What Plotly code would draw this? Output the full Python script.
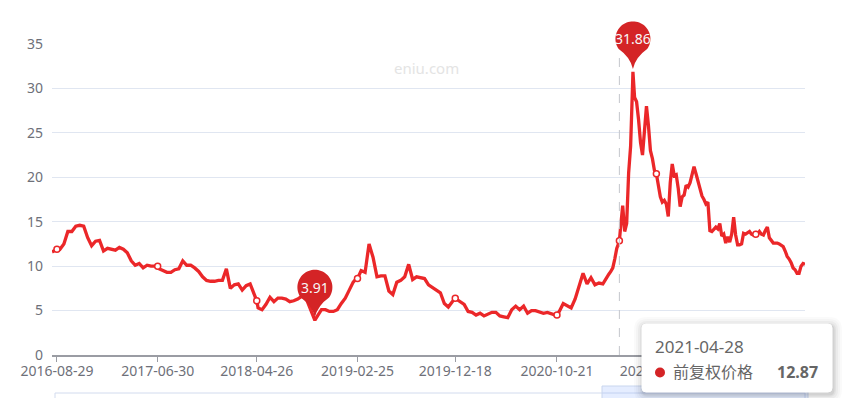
import math
import pandas as pd
import plotly.graph_objects as go

# ---------------- data ----------------
seg1_start = "2016-08-14"
seg1_step_days = 12
seg1_values = [
    11.6, 11.9, 11.9, 12.5, 13.9, 13.9, 14.5, 14.6, 14.5, 13.2,
    12.3, 12.8, 12.9, 11.7, 12.0, 11.9, 11.8, 12.1, 11.9, 11.5,
    10.6, 10.1, 10.3, 9.8, 10.1, 10.0, 10.0, 9.7, 9.5, 9.3,
    9.3, 9.6, 9.7, 10.6, 10.1, 10.1, 9.8, 9.4, 8.8, 8.4,
    8.3, 8.3, 8.4, 8.4, 9.7, 7.5, 7.9, 8.0, 7.3, 7.8,
    8.0, 6.8, 5.3, 5.1, 5.7, 6.5, 6.0, 6.4, 6.4, 6.3,
    6.0, 6.1, 6.3, 6.6, 6.5, 5.4, 4.5, 4.4, 5.1, 5.1,
    4.9, 4.9, 5.1, 5.8, 6.4, 7.3, 8.2, 8.7, 9.5, 9.3,
    12.5, 11.0, 8.8, 8.9, 8.9, 7.2, 6.8, 8.2, 8.4, 8.8,
    10.2, 8.5, 8.8, 8.7, 8.6, 7.9, 7.6, 7.2, 7.0, 5.8,
    5.4, 6.0, 6.3, 6.0, 5.7, 4.9, 4.8, 4.5, 4.7, 4.4,
    4.6, 4.8, 4.8, 4.4, 4.3, 4.2, 5.1, 5.5, 5.1, 5.5,
    4.7, 5.0, 5.0, 4.8, 4.7, 4.8, 4.6, 4.5, 4.9, 5.8,
    5.6, 5.3, 6.3, 7.8, 9.2, 8.0, 8.7, 7.9, 8.1, 8.0,
    8.8,
]
seg2_start = "2021-03-27"
seg2_step_days = 6
seg2_values = [
    9.1, 9.4, 9.8, 10.8, 12.0, 12.6, 14.5, 16.8, 13.9, 14.8,
    20.5, 23.5, 30.5, 29.0, 28.5, 26.5, 23.9, 22.5, 25.2, 28.0,
    25.8, 23.0, 22.1, 20.8, 20.4, 19.1, 17.8, 17.2, 17.4, 17.0,
    15.6, 19.4, 21.5, 20.2, 20.3, 18.8, 16.7, 17.8, 18.0, 19.1,
    18.9, 19.4, 20.5, 21.2, 20.4, 19.6, 18.5, 17.9, 17.5, 17.0,
    17.2, 14.0, 13.9, 14.1, 14.4, 14.2, 14.8, 13.4, 13.6, 12.6,
    13.3, 12.7, 13.6, 15.5, 13.5, 12.4, 12.4, 12.5, 13.7, 13.6,
    13.8, 13.9, 13.6, 13.5, 13.7, 13.6, 13.9, 13.6, 13.5, 14.0,
    14.4, 13.2, 12.9, 12.6, 12.6, 12.6, 12.5, 12.4, 12.2, 11.7,
    11.1, 10.8, 10.4, 9.8, 9.6, 9.2, 9.2, 10.0, 10.3, 10.2,
]
key_dates = ["2016-08-29", "2017-06-30", "2018-04-26", "2018-10-19", "2019-02-25",
             "2019-12-18", "2020-10-21", "2021-04-28", "2021-06-08", "2021-08-18",
             "2022-06-15"]
key_values = [11.9, 10.0, 6.1, 3.91, 8.6, 6.4, 4.5, 12.87, 31.86, 20.4, 13.6]

tick_dates = ["2016-08-29", "2017-06-30", "2018-04-26", "2019-02-25", "2019-12-18",
              "2020-10-21", "2021-08-18", "2022-06-15"]
# the last label sits entirely under the tooltip in the reference
tick_labels = ["2016-08-29", "2017-06-30", "2018-04-26", "2019-02-25", "2019-12-18",
               "2020-10-21", "2021-08-18", ""]
y_ticks = [0, 5, 10, 15, 20, 25, 30, 35]
y_range = [0, 35]

series_name = "前复权价格"
max_date, max_value = "2021-06-08", 31.86
min_date, min_value = "2018-10-19", 3.91
tip_date, tip_value = "2021-04-28", 12.87
watermark = "eniu.com"
x_range = ["2016-08-14", "2022-11-11"]

# ---------------- build series ----------------
d1 = pd.date_range(seg1_start, periods=len(seg1_values), freq=f"{seg1_step_days}D")
d2 = pd.date_range(seg2_start, periods=len(seg2_values), freq=f"{seg2_step_days}D")
s = pd.concat([
    pd.Series(seg1_values, index=d1),
    pd.Series(seg2_values, index=d2),
    pd.Series(key_values, index=pd.to_datetime(key_dates)),
])
s = s[~s.index.duplicated(keep="last")].sort_index()
key_map = dict(zip(key_dates, key_values))
marker_dates = tick_dates + [tip_date]
marker_values = [key_map[d] for d in marker_dates]

# ---------------- style / geometry ----------------
W, H = 862, 398
L, R, T, B = 52, 57, 44, 43
PW, PH = W - L - R, H - T - B
LINE = "#eb2729"
PIN = "#d42426"
FONT = "Noto Sans, Noto Sans CJK SC, sans-serif"
LABEL = "#6e7079"

t0, t1 = pd.Timestamp(x_range[0]), pd.Timestamp(x_range[1])


def date_frac(d):
    return (pd.Timestamp(d) - t0) / (t1 - t0)


def val_frac(v):
    return (v - y_range[0]) / (y_range[1] - y_range[0])


def px(x):
    return (x - L) / PW


def py(y):
    return (H - B - y) / PH


def rrect(x0, y0, x1, y1, r):
    pts = [
        f"M{px(x0 + r)},{py(y0)}", f"L{px(x1 - r)},{py(y0)}",
        f"Q{px(x1)},{py(y0)} {px(x1)},{py(y0 + r)}",
        f"L{px(x1)},{py(y1 - r)}",
        f"Q{px(x1)},{py(y1)} {px(x1 - r)},{py(y1)}",
        f"L{px(x0 + r)},{py(y1)}",
        f"Q{px(x0)},{py(y1)} {px(x0)},{py(y1 - r)}",
        f"L{px(x0)},{py(y0 + r)}",
        f"Q{px(x0)},{py(y0)} {px(x0 + r)},{py(y0)}", "Z",
    ]
    return " ".join(pts)


PIN_R, PIN_CY, PIN_TIP = 17.5, 33.0, 3.0


def pin_path(r=PIN_R, cy=PIN_CY, tip=PIN_TIP, n=48):
    th = math.acos(r / (cy - tip))
    a0 = 1.5 * math.pi - th
    a1 = th - 0.5 * math.pi
    lx, ly = -r * math.sin(th), cy - r * math.cos(th)
    parts = [f"M0,{tip}", f"Q{lx * 0.2:.2f},{tip + (ly - tip) * 0.6:.2f} {lx:.2f},{ly:.2f}"]
    for i in range(1, n + 1):
        a = a0 + (a1 - a0) * i / n
        parts.append(f"L{r * math.cos(a):.2f},{cy + r * math.sin(a):.2f}")
    parts.append(f"Q{-lx * 0.2:.2f},{tip + (ly - tip) * 0.6:.2f} 0,{tip} Z")
    return " ".join(parts)


fig = go.Figure()
fig.add_trace(go.Scatter(
    x=s.index, y=s.values, mode="lines", name=series_name,
    line=dict(color=LINE, width=3.3), hoverinfo="skip",
))
fig.add_trace(go.Scatter(
    x=marker_dates, y=marker_values, mode="markers", showlegend=False,
    marker=dict(symbol="circle", size=6, color="white", line=dict(color=LINE, width=1.5)),
    hoverinfo="skip",
))

shapes = []
# dashed pointer line
shapes.append(dict(type="line", xref="x", yref="paper", x0=tip_date, x1=tip_date,
                   y0=0, y1=py(45), line=dict(color="#c4c6cc", width=1, dash="dash"), layer="above"))
# pins (paper refs so the balloon is not clipped at the top of the plot)
for d, v in [(max_date, max_value), (min_date, min_value)]:
    shapes.append(dict(type="path", xref="paper", yref="paper", xsizemode="pixel", ysizemode="pixel",
                       xanchor=date_frac(d), yanchor=val_frac(v), path=pin_path(), fillcolor=PIN,
                       line=dict(width=0), layer="above"))
# data zoom strip (partially visible)
shapes.append(dict(type="rect", xref="paper", yref="paper", x0=px(55), x1=px(805),
                   y0=py(393), y1=py(402), fillcolor="white",
                   line=dict(color="#d2dbee", width=1), layer="above"))
shapes.append(dict(type="rect", xref="paper", yref="paper", x0=px(602), x1=px(808),
                   y0=py(386), y1=py(402), fillcolor="rgba(135,175,255,0.22)",
                   line=dict(color="#c9d6ee", width=1), layer="above"))
# tooltip shadow + box
tx0, ty0, tx1, ty1 = 642, 324, 832, 392
for sp, a in [(9, 0.018), (7, 0.025), (5, 0.035), (3, 0.045), (1.5, 0.06)]:
    shapes.append(dict(type="path", xref="paper", yref="paper",
                       path=rrect(tx0 - sp + 1, ty0 - sp + 2, tx1 + sp + 1, ty1 + sp + 2, 4 + sp),
                       fillcolor=f"rgba(0,0,0,{a})", line=dict(width=0), layer="above"))
shapes.append(dict(type="path", xref="paper", yref="paper", path=rrect(tx0, ty0, tx1, ty1, 4),
                   fillcolor="white", line=dict(color="white", width=1), layer="above"))
shapes.append(dict(type="circle", xref="paper", yref="paper", x0=px(655), x1=px(665),
                   y0=py(367.5), y1=py(377.5), fillcolor=PIN, line=dict(width=0), layer="above"))

annotations = [
    dict(x=date_frac(max_date), y=val_frac(max_value), xref="paper", yref="paper", yshift=PIN_CY,
         text=f"{max_value:.2f}", showarrow=False, font=dict(family=FONT, size=14, color="#f7f7f7"),
         xanchor="center", yanchor="middle"),
    dict(x=date_frac(min_date), y=val_frac(min_value), xref="paper", yref="paper", yshift=PIN_CY,
         text=f"{min_value:.2f}", showarrow=False, font=dict(family=FONT, size=14, color="#f7f7f7"),
         xanchor="center", yanchor="middle"),
    dict(x=px(426), y=py(68), xref="paper", yref="paper", text=watermark, showarrow=False,
         font=dict(family=FONT, size=15, color="#e4e4e4"), xanchor="center", yanchor="middle"),
    dict(x=px(653), y=py(346), xref="paper", yref="paper", text=tip_date, showarrow=False,
         font=dict(family=FONT, size=17, color="#666666"), xanchor="left", yanchor="middle"),
    dict(x=px(671), y=py(372), xref="paper", yref="paper", text=series_name, showarrow=False,
         font=dict(family=FONT, size=16, color="#666666"), xanchor="left", yanchor="middle"),
    dict(x=px(820), y=py(372), xref="paper", yref="paper", text=f"<b>{tip_value:.2f}</b>", showarrow=False,
         font=dict(family=FONT, size=16, color="#666666"), xanchor="right", yanchor="middle"),
]

fig.update_layout(
    width=W, height=H, margin=dict(l=L, r=R, t=T, b=B, pad=0),
    paper_bgcolor="white", plot_bgcolor="white", showlegend=False,
    hovermode=False, shapes=shapes, annotations=annotations,
    font=dict(family=FONT, color=LABEL),
)
fig.update_xaxes(
    type="date", range=x_range, tickmode="array", tickvals=tick_dates, ticktext=tick_labels,
    showgrid=False, zeroline=False, showline=True, linecolor="#9a9ca3", linewidth=2,
    ticks="outside", ticklen=5, tickwidth=1, tickcolor="#9a9ca3", ticklabelstandoff=-3,
    tickfont=dict(family=FONT, size=14, color=LABEL),
)
fig.update_yaxes(
    range=y_range, tickmode="array", tickvals=y_ticks, showgrid=True, gridcolor="#e0e6f1",
    gridwidth=1, zeroline=False, showline=False, ticks="", ticklabelstandoff=8,
    tickfont=dict(family=FONT, size=14, color=LABEL),
)

fig.write_html("out.html", config={"displayModeBar": False},
               post_script="document.body.style.margin='0';")
